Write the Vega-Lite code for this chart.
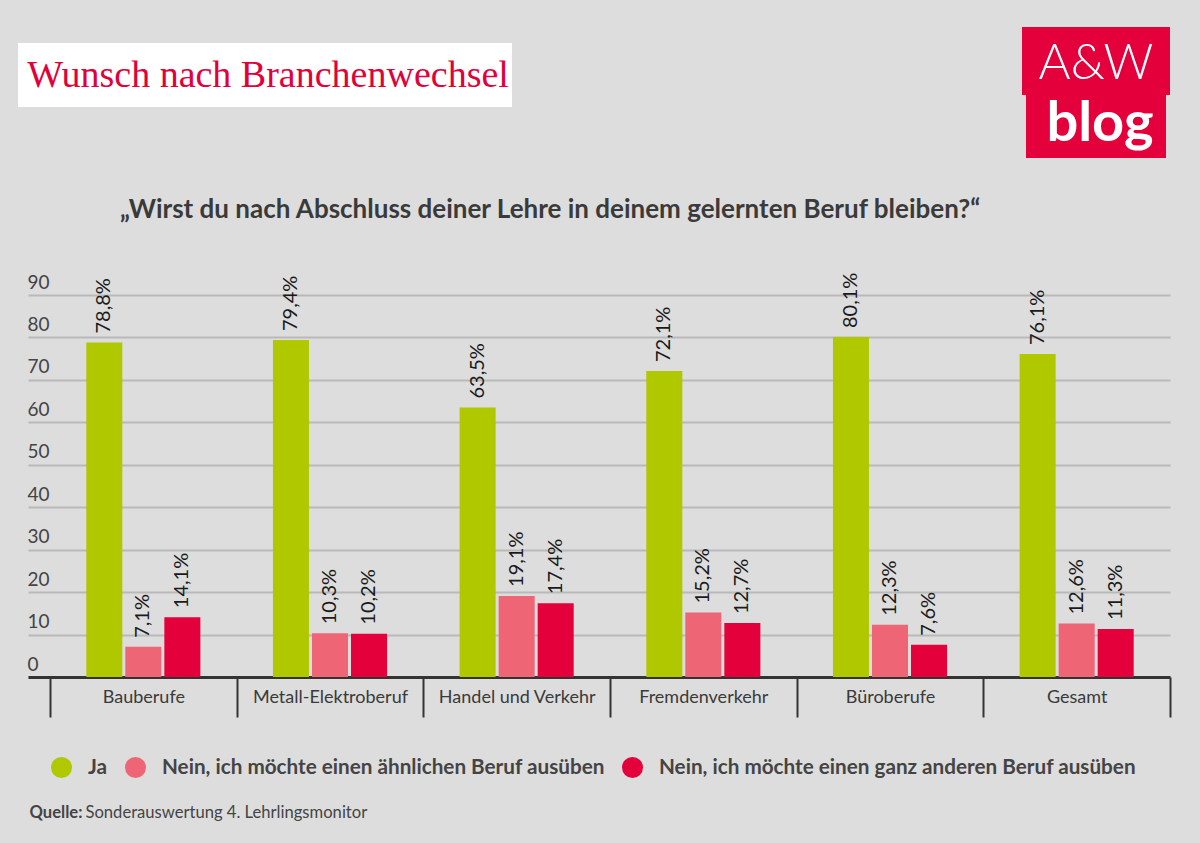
{
  "$schema": "https://vega.github.io/schema/vega-lite/v6.json",
  "background": "#dddddd",
  "padding": {"left": 18, "top": 27, "right": 29, "bottom": 23},
  "config": {
    "view": {"stroke": null},
    "font": "Lato",
    "locale": {"number": {"decimal": ",", "thousands": ".", "grouping": [3], "currency": ["", "%"]}}
  },
  "spacing": 38,
  "datasets": {
    "umfrage": [
      {"Beruf": "Bauberufe", "Antwort": "Ja", "Wert": 78.8},
      {"Beruf": "Bauberufe", "Antwort": "Nein, ich möchte einen ähnlichen Beruf ausüben", "Wert": 7.1},
      {"Beruf": "Bauberufe", "Antwort": "Nein, ich möchte einen ganz anderen Beruf ausüben", "Wert": 14.1},
      {"Beruf": "Metall-Elektroberuf", "Antwort": "Ja", "Wert": 79.4},
      {"Beruf": "Metall-Elektroberuf", "Antwort": "Nein, ich möchte einen ähnlichen Beruf ausüben", "Wert": 10.3},
      {"Beruf": "Metall-Elektroberuf", "Antwort": "Nein, ich möchte einen ganz anderen Beruf ausüben", "Wert": 10.2},
      {"Beruf": "Handel und Verkehr", "Antwort": "Ja", "Wert": 63.5},
      {"Beruf": "Handel und Verkehr", "Antwort": "Nein, ich möchte einen ähnlichen Beruf ausüben", "Wert": 19.1},
      {"Beruf": "Handel und Verkehr", "Antwort": "Nein, ich möchte einen ganz anderen Beruf ausüben", "Wert": 17.4},
      {"Beruf": "Fremdenverkehr", "Antwort": "Ja", "Wert": 72.1},
      {"Beruf": "Fremdenverkehr", "Antwort": "Nein, ich möchte einen ähnlichen Beruf ausüben", "Wert": 15.2},
      {"Beruf": "Fremdenverkehr", "Antwort": "Nein, ich möchte einen ganz anderen Beruf ausüben", "Wert": 12.7},
      {"Beruf": "Büroberufe", "Antwort": "Ja", "Wert": 80.1},
      {"Beruf": "Büroberufe", "Antwort": "Nein, ich möchte einen ähnlichen Beruf ausüben", "Wert": 12.3},
      {"Beruf": "Büroberufe", "Antwort": "Nein, ich möchte einen ganz anderen Beruf ausüben", "Wert": 7.6},
      {"Beruf": "Gesamt", "Antwort": "Ja", "Wert": 76.1},
      {"Beruf": "Gesamt", "Antwort": "Nein, ich möchte einen ähnlichen Beruf ausüben", "Wert": 12.6},
      {"Beruf": "Gesamt", "Antwort": "Nein, ich möchte einen ganz anderen Beruf ausüben", "Wert": 11.3}
    ]
  },
  "vconcat": [
    {
      "hconcat": [
        {
          "vconcat": [
            {"width": 10, "height": 16, "data": {"values": [{}]}, "mark": {"type": "point", "opacity": 0, "size": 1}},
            {
              "width": 494, "height": 64,
              "view": {"fill": "#ffffff", "stroke": null},
              "data": {"values": [{"t": "Wunsch nach Branchenwechsel"}]},
              "mark": {"type": "text", "font": "Liberation Serif", "fontSize": 38, "color": "#e2003b", "align": "center", "baseline": "middle", "dx": 3, "dy": 1},
              "encoding": {"text": {"field": "t"}}
            }
          ],
          "spacing": 0
        },
        {
          "vconcat": [
            {
              "width": 148, "height": 68,
              "view": {"fill": "#e3003b", "stroke": null},
              "data": {"values": [{"t": "A&W"}]},
              "mark": {"type": "text", "font": "Lato", "fontWeight": 300, "fontSize": 49, "color": "#ffffff", "align": "center", "baseline": "middle", "dy": 3},
              "encoding": {"text": {"field": "t"}}
            },
            {
              "width": 140, "height": 63,
              "view": {"fill": "#e3003b", "stroke": null},
              "data": {"values": [{"t": "blog"}]},
              "mark": {"type": "text", "font": "Lato", "fontWeight": "bold", "fontSize": 56, "color": "#ffffff", "align": "center", "baseline": "middle", "dx": 4, "dy": -3},
              "encoding": {"text": {"field": "t"}}
            }
          ],
          "spacing": 0,
          "center": true
        }
      ],
      "spacing": 510
    },
    {
      "hconcat": [
        {"width": 1, "height": 1, "data": {"values": [{}]}, "mark": {"type": "point", "opacity": 0, "size": 1}},
        {
          "width": 1142,
          "height": 382,
          "data": {"name": "umfrage"},
          "title": {
            "text": "„Wirst du nach Abschluss deiner Lehre in deinem gelernten Beruf bleiben?“",
            "anchor": "start", "frame": "group", "dx": 92, "offset": 50,
            "font": "Lato", "fontSize": 26, "fontWeight": "bold", "color": "#3a3a3a"
          },
          "encoding": {
            "x": {
              "field": "Beruf", "type": "nominal", "sort": null,
              "scale": {"paddingInner": 0, "paddingOuter": 0.0589, "align": 1},
              "axis": {
                "title": null, "labelAngle": 0, "domainColor": "#333333", "domainWidth": 3,
                "tickBand": "extent", "tickColor": "#333333", "tickWidth": 2, "tickSize": 40,
                "labelPadding": -29, "labelBaseline": "top", "labelFontSize": 18, "labelColor": "#3a3a3a", "labelFont": "Lato"
              }
            },
            "xOffset": {
              "field": "Antwort", "sort": null,
              "scale": {"paddingInner": 0.077, "paddingOuter": 0.93}
            },
            "y": {
              "field": "Wert", "type": "quantitative",
              "scale": {"domain": [0, 90], "nice": false},
              "axis": {
                "values": [0, 10, 20, 30, 40, 50, 60, 70, 80, 90],
                "domain": false, "ticks": false, "grid": true, "gridColor": "#b9b9b9", "gridWidth": 2,
                "labelAlign": "left", "labelPadding": 1, "labelBaseline": "alphabetic", "labelOffset": -7,
                "labelFontSize": 19, "labelColor": "#444444", "labelFont": "Lato", "title": null
              }
            }
          },
          "layer": [
            {
              "mark": {"type": "bar"},
              "encoding": {
                "color": {
                  "field": "Antwort", "type": "nominal", "sort": null,
                  "scale": {
                    "domain": ["Ja", "Nein, ich möchte einen ähnlichen Beruf ausüben", "Nein, ich möchte einen ganz anderen Beruf ausüben"],
                    "range": ["#afc800", "#ee6676", "#e4003a"]
                  },
                  "legend": {
                    "orient": "none", "legendX": 32, "legendY": 729, "direction": "horizontal",
                    "title": null, "symbolType": "circle", "symbolSize": 440, "symbolOpacity": 1,
                    "labelFontSize": 20.7, "labelFontWeight": "bold", "labelColor": "#444444", "labelFont": "Lato",
                    "labelOffset": 15, "columnPadding": 16, "labelLimit": 0, "padding": 0
                  }
                }
              }
            },
            {
              "mark": {"type": "text", "angle": 270, "align": "left", "baseline": "middle", "dx": 9, "fontSize": 20, "font": "Lato", "color": "#1a1a1a"},
              "encoding": {
                "text": {"field": "Wert", "type": "quantitative", "format": "$.1f"}
              }
            }
          ]
        }
      ],
      "spacing": 8
    },
    {
      "width": 1,
      "height": 20,
      "data": {"values": [{"q": "Quelle:", "s": "Sonderauswertung 4. Lehrlingsmonitor"}]},
      "layer": [
        {
          "mark": {"type": "text", "align": "left", "baseline": "middle", "dx": 11, "dy": 47, "font": "Lato", "fontSize": 16.6, "fontWeight": "bold", "color": "#444444"},
          "encoding": {"text": {"field": "q"}}
        },
        {
          "mark": {"type": "text", "align": "left", "baseline": "middle", "dx": 67, "dy": 47, "font": "Lato", "fontSize": 16.6, "color": "#444444"},
          "encoding": {"text": {"field": "s"}}
        }
      ]
    }
  ]
}
